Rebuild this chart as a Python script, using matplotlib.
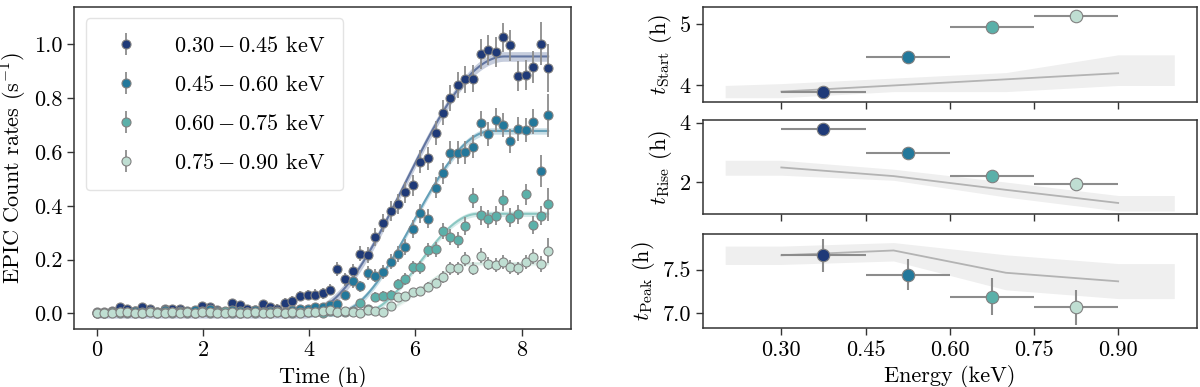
import numpy as np
import matplotlib
matplotlib.use("Agg")
import matplotlib.pyplot as plt

plt.rcParams.update({
    "font.family": "serif",
    "font.serif": ["cmr10"],
    "mathtext.fontset": "cm",
    "axes.formatter.use_mathtext": True,
    "font.size": 16,
    "axes.edgecolor": "0.2",
    "axes.linewidth": 1.1,
    "xtick.major.size": 5,
    "ytick.major.size": 5,
    "xtick.major.width": 1.0,
    "ytick.major.width": 1.0,
    "xtick.color": "0.2",
    "ytick.color": "0.2",
    "xtick.labelcolor": "black",
    "ytick.labelcolor": "black",
})

# light curves, 4 energy bands (counts / s)
time_h = [0.00, 0.14, 0.28, 0.43, 0.57, 0.71, 0.85, 0.99, 1.13, 1.28,
          1.42, 1.56, 1.70, 1.84, 1.98, 2.13, 2.27, 2.41, 2.55, 2.69,
          2.83, 2.98, 3.12, 3.26, 3.40, 3.54, 3.68, 3.83, 3.97, 4.11,
          4.25, 4.39, 4.53, 4.68, 4.82, 4.96, 5.10, 5.24, 5.38, 5.53,
          5.67, 5.81, 5.95, 6.09, 6.23, 6.38, 6.52, 6.66, 6.80, 6.94,
          7.08, 7.23, 7.37, 7.51, 7.65, 7.79, 7.93, 8.08, 8.22, 8.36,
          8.50]

rate_030_045 = [0.005, 0.004, 0.010, 0.022, 0.018, 0.008, 0.024, 0.016, 0.006, 0.018,
                0.018, 0.015, 0.006, 0.010, 0.026, 0.024, 0.012, 0.006, 0.038, 0.032,
                0.015, 0.012, 0.034, 0.024, 0.018, 0.040, 0.046, 0.064, 0.068, 0.070,
                0.074, 0.088, 0.165, 0.126, 0.156, 0.222, 0.218, 0.284, 0.335, 0.381,
                0.406, 0.450, 0.476, 0.564, 0.576, 0.671, 0.746, 0.802, 0.849, 0.870,
                0.872, 0.964, 0.978, 0.973, 1.026, 0.997, 0.882, 0.885, 0.917, 1.002,
                0.913]
rate_045_060 = [0.002, 0.000, 0.004, 0.006, 0.002, 0.008, 0.004, 0.010, 0.006, 0.012,
                0.004, 0.008, 0.010, 0.014, 0.008, 0.016, 0.010, 0.006, 0.012, 0.008,
                0.004, 0.012, 0.006, 0.010, 0.008, 0.004, 0.012, 0.018, 0.015, 0.024,
                0.024, 0.030, 0.035, 0.068, 0.120, 0.100, 0.150, 0.140, 0.152, 0.192,
                0.222, 0.247, 0.314, 0.372, 0.352, 0.467, 0.520, 0.597, 0.597, 0.598,
                0.620, 0.706, 0.667, 0.719, 0.700, 0.641, 0.685, 0.683, 0.712, 0.529,
                0.737]
rate_060_075 = [0.003, 0.001, 0.004, 0.002, 0.006, 0.001, 0.003, 0.005, 0.002, 0.004,
                0.001, 0.006, 0.003, 0.002, 0.005, 0.001, 0.004, 0.007, 0.002, 0.003,
                0.005, 0.002, 0.004, 0.001, 0.006, 0.003, 0.002, 0.005, 0.004, 0.006,
                0.003, 0.008, 0.005, 0.004, 0.010, 0.040, 0.015, 0.062, 0.066, 0.070,
                0.108, 0.128, 0.171, 0.171, 0.235, 0.238, 0.306, 0.285, 0.272, 0.325,
                0.428, 0.365, 0.351, 0.363, 0.420, 0.356, 0.369, 0.442, 0.328, 0.363,
                0.405]
rate_075_090 = [0.002, 0.003, 0.002, 0.004, 0.006, 0.003, 0.001, 0.005, 0.003, 0.002,
                0.004, 0.003, 0.005, 0.002, 0.004, 0.006, 0.003, 0.002, 0.004, 0.003,
                0.001, 0.004, 0.002, 0.003, 0.005, 0.002, 0.004, 0.003, 0.006, 0.004,
                0.008, 0.012, 0.006, 0.010, 0.004, 0.002, 0.012, 0.010, 0.004, 0.027,
                0.060, 0.065, 0.078, 0.082, 0.099, 0.113, 0.134, 0.168, 0.168, 0.202,
                0.166, 0.215, 0.185, 0.180, 0.190, 0.173, 0.167, 0.192, 0.210, 0.182,
                0.233]

err_030_045 = [0.012, 0.012, 0.013, 0.014, 0.013, 0.012, 0.014, 0.013, 0.012, 0.013,
               0.014, 0.013, 0.012, 0.013, 0.015, 0.014, 0.013, 0.012, 0.016, 0.015,
               0.013, 0.013, 0.016, 0.015, 0.015, 0.017, 0.018, 0.019, 0.019, 0.020,
               0.020, 0.021, 0.026, 0.024, 0.026, 0.029, 0.029, 0.032, 0.034, 0.036,
               0.037, 0.039, 0.040, 0.043, 0.043, 0.045, 0.047, 0.048, 0.049, 0.050,
               0.050, 0.055, 0.056, 0.056, 0.055, 0.058, 0.057, 0.055, 0.060, 0.080,
               0.090]
err_045_060 = [0.010, 0.010, 0.011, 0.011, 0.010, 0.011, 0.010, 0.012, 0.011, 0.012,
               0.010, 0.011, 0.012, 0.012, 0.011, 0.012, 0.011, 0.010, 0.012, 0.011,
               0.010, 0.012, 0.011, 0.012, 0.011, 0.010, 0.012, 0.014, 0.014, 0.015,
               0.015, 0.016, 0.017, 0.020, 0.024, 0.022, 0.025, 0.025, 0.026, 0.028,
               0.030, 0.031, 0.034, 0.036, 0.035, 0.039, 0.040, 0.042, 0.042, 0.042,
               0.043, 0.045, 0.044, 0.046, 0.045, 0.044, 0.045, 0.045, 0.046, 0.059,
               0.080]
err_060_075 = [0.008, 0.008, 0.008, 0.008, 0.009, 0.008, 0.008, 0.009, 0.008, 0.008,
               0.008, 0.009, 0.008, 0.008, 0.009, 0.008, 0.008, 0.009, 0.008, 0.008,
               0.009, 0.008, 0.008, 0.008, 0.009, 0.008, 0.008, 0.009, 0.009, 0.009,
               0.009, 0.010, 0.010, 0.010, 0.011, 0.015, 0.012, 0.016, 0.017, 0.017,
               0.020, 0.021, 0.024, 0.024, 0.027, 0.027, 0.031, 0.030, 0.030, 0.032,
               0.037, 0.035, 0.034, 0.035, 0.038, 0.035, 0.035, 0.040, 0.034, 0.036,
               0.060]
err_075_090 = [0.008, 0.008, 0.008, 0.008, 0.008, 0.008, 0.008, 0.008, 0.008, 0.008,
               0.008, 0.008, 0.008, 0.008, 0.008, 0.008, 0.008, 0.008, 0.008, 0.008,
               0.008, 0.008, 0.008, 0.008, 0.008, 0.008, 0.008, 0.008, 0.008, 0.008,
               0.009, 0.010, 0.009, 0.010, 0.009, 0.009, 0.010, 0.010, 0.009, 0.012,
               0.015, 0.016, 0.017, 0.017, 0.019, 0.020, 0.022, 0.024, 0.024, 0.026,
               0.024, 0.027, 0.025, 0.025, 0.026, 0.025, 0.025, 0.026, 0.028, 0.030,
               0.047]

band_labels = [r"$0.30 - 0.45$ keV", r"$0.45 - 0.60$ keV",
               r"$0.60 - 0.75$ keV", r"$0.75 - 0.90$ keV"]
band_colors = ["#1f3a78", "#23789b", "#5bb0a9", "#bfded2"]

# fitted flare parameters per energy band
energy_mid = [0.375, 0.525, 0.675, 0.825]
energy_halfwidth = [0.075, 0.075, 0.075, 0.075]
t_start = [3.90, 4.47, 4.95, 5.14]
t_rise = [3.78, 2.97, 2.23, 1.94]
t_peak = [7.665, 7.443, 7.19, 7.07]
t_peak_err = [0.19, 0.18, 0.21, 0.20]
plateau = [0.955, 0.678, 0.370, 0.185]
plateau_err = [0.018, 0.012, 0.010, 0.008]

# expected trend (grey line + shaded range)
sim_energy = [0.2, 0.3, 0.5, 0.7, 0.9, 1.0]
sim_line_energy = [0.3, 0.5, 0.7, 0.9]
start_lo = [3.80, 3.80, 3.90, 3.90, 4.00, 4.00]
start_hi = [4.00, 4.03, 4.12, 4.21, 4.50, 4.50]
start_line = [3.90, 4.00, 4.10, 4.20]
rise_lo = [2.24, 2.24, 2.07, 1.51, 1.04, 1.04]
rise_hi = [2.74, 2.74, 2.44, 2.01, 1.56, 1.56]
rise_line = [2.50, 2.21, 1.75, 1.31]
peak_lo = [7.56, 7.56, 7.60, 7.27, 7.17, 7.17]
peak_hi = [7.77, 7.77, 7.81, 7.67, 7.57, 7.57]
peak_line = [7.665, 7.72, 7.465, 7.367]

rates = [rate_030_045, rate_045_060, rate_060_075, rate_075_090]
errs = [err_030_045, err_045_060, err_060_075, err_075_090]

fig = plt.figure(figsize=(12, 3.87), dpi=100)
ax = fig.add_axes([0.062, 0.150, 0.4136, 0.832])

# fitted rise profile: flat, half-cosine rise from t_start over t_rise, plateau
tt = np.linspace(0, 8.5, 400)
for k in range(4):
    phase = np.clip((tt - t_start[k]) / t_rise[k], 0, 1)
    model = plateau[k] * 0.5 * (1 - np.cos(np.pi * phase))
    ax.fill_between(tt, model - plateau_err[k], model + plateau_err[k],
                    color=band_colors[k], alpha=0.25, lw=0, zorder=1)
    ax.plot(tt, model, color=band_colors[k], alpha=0.6, lw=1.5, zorder=1)

for k in range(4):
    ax.errorbar(time_h, rates[k], yerr=errs[k], fmt="o", ms=6.5,
                color=band_colors[k], mec="#808080", mew=0.8,
                ecolor="#8c8c8c", elinewidth=1.3, capsize=0,
                label=band_labels[k], zorder=2 + k)

ax.set_xlim(-0.425, 8.925)
ax.set_ylim(-0.058, 1.139)
ax.set_xticks([0, 2, 4, 6, 8])
ax.set_yticks([0.0, 0.2, 0.4, 0.6, 0.8, 1.0])
ax.yaxis.set_major_formatter(matplotlib.ticker.FormatStrFormatter("%.1f"))
ax.set_xlabel("Time (h)")
ax.set_ylabel(r"EPIC Count rates (s$^{-1}$)")
leg = ax.legend(loc="upper left", handletextpad=1.2, labelspacing=0.85,
                borderpad=0.8, fancybox=True, edgecolor="#dddddd")

# right column
panels = [
    (0.7364, 0.2455, t_start, None, start_lo, start_hi, start_line,
     r"$t_{\rm Start}$ (h)", (3.73, 5.28), [4, 5], "%d"),
    (0.4478, 0.2413, t_rise, None, rise_lo, rise_hi, rise_line,
     r"$t_{\rm Rise}$ (h)", (0.95, 4.08), [2, 4], "%d"),
    (0.1517, 0.2429, t_peak, t_peak_err, peak_lo, peak_hi, peak_line,
     r"$t_{\rm Peak}$ (h)", (6.83, 7.905), [7.0, 7.5], "%.1f"),
]
for j, (bot, h, vals, yerr, lo, hi, line, ylab, ylim, yt, fmt) in enumerate(panels):
    a = fig.add_axes([0.5856, bot, 0.4117, h])
    a.fill_between(sim_energy, lo, hi, color="#efefef", lw=0, zorder=1)
    a.plot(sim_line_energy, line, color="#b3b3b3", lw=1.3, zorder=2)
    for k in range(4):
        a.errorbar(energy_mid[k], vals[k], xerr=energy_halfwidth[k],
                   yerr=None if yerr is None else yerr[k], fmt="o", ms=9,
                   color=band_colors[k], mec="#808080", mew=0.8,
                   ecolor="#8c8c8c", elinewidth=1.5, capsize=0, zorder=3)
    a.set_xlim(0.16, 1.04)
    a.set_ylim(*ylim)
    a.set_yticks(yt)
    a.yaxis.set_major_formatter(matplotlib.ticker.FormatStrFormatter(fmt))
    a.set_xticks([0.30, 0.45, 0.60, 0.75, 0.90])
    a.xaxis.set_major_formatter(matplotlib.ticker.FormatStrFormatter("%.2f"))
    a.set_ylabel(ylab)
    if j < 2:
        a.tick_params(labelbottom=False)
    else:
        a.set_xlabel("Energy (keV)")

fig.savefig("out.png", dpi=100)
